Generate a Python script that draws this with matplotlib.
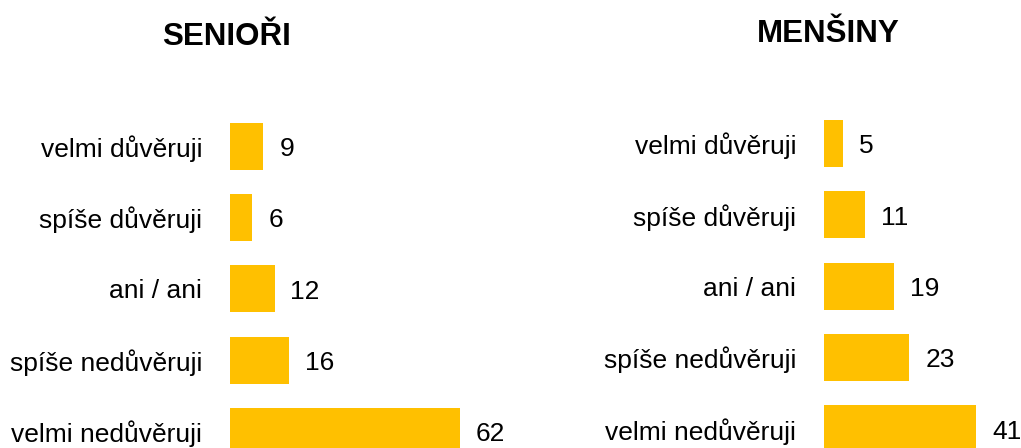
import matplotlib
matplotlib.use("Agg")
import matplotlib.pyplot as plt
from matplotlib import font_manager

categories = ["velmi důvěruji", "spíše důvěruji", "ani / ani",
              "spíše nedůvěruji", "velmi nedůvěruji"]
seniori = [9, 6, 12, 16, 62]
mensiny = [5, 11, 19, 23, 41]
titles = ["SENIOŘI", "MENŠINY"]

BAR_COLOR = "#FFC000"
W, H = 1021, 448

# labels in the reference are a narrow sans; fall back to normal width if missing
names = {f.name for f in font_manager.fontManager.ttflist}
if "Liberation Sans Narrow" in names:
    label_font, label_size = "Liberation Sans Narrow", 23
else:
    label_font, label_size = "Liberation Sans", 19

plt.rcParams["font.family"] = ["Liberation Sans", "DejaVu Sans"]

fig = plt.figure(figsize=(W / 100, H / 100), dpi=100)

px_per_unit = 3.71
row_px = 71.3


def make_axes(left_px, top_px, xmax):
    width = xmax * px_per_unit
    height = 5 * row_px
    bottom_px = top_px + height
    ax = fig.add_axes([left_px / W, 1 - bottom_px / H, width / W, height / H])
    ax.set_xlim(0, xmax)
    return ax


panels = [
    (make_axes(230, 110.5, 75), seniori),
    (make_axes(824, 108.0, 50), mensiny),
]

for ax, values in panels:
    y = range(len(categories))
    ax.barh(y, values, height=0.66, color=BAR_COLOR, edgecolor="none")
    ax.set_ylim(4.5, -0.5)
    ax.set_yticks(list(y))
    ax.set_yticklabels(categories, fontsize=label_size, family=label_font)
    ax.tick_params(axis="y", length=0, pad=20)
    ax.set_xticks([])
    for s in ax.spines.values():
        s.set_visible(False)
    # value labels right of the bars
    for i, v in enumerate(values):
        ax.annotate(str(v), xy=(v, i), xytext=(11.5, -2), textcoords="offset points",
                    va="center", ha="left", fontsize=19, color="black")

fig.text(227 / W, 1 - 45 / H, titles[0], ha="center", va="baseline",
         fontsize=22.5, fontweight="bold")
fig.text(828 / W, 1 - 42 / H, titles[1], ha="center", va="baseline",
         fontsize=22.5, fontweight="bold")

fig.savefig("out.png", dpi=100)
